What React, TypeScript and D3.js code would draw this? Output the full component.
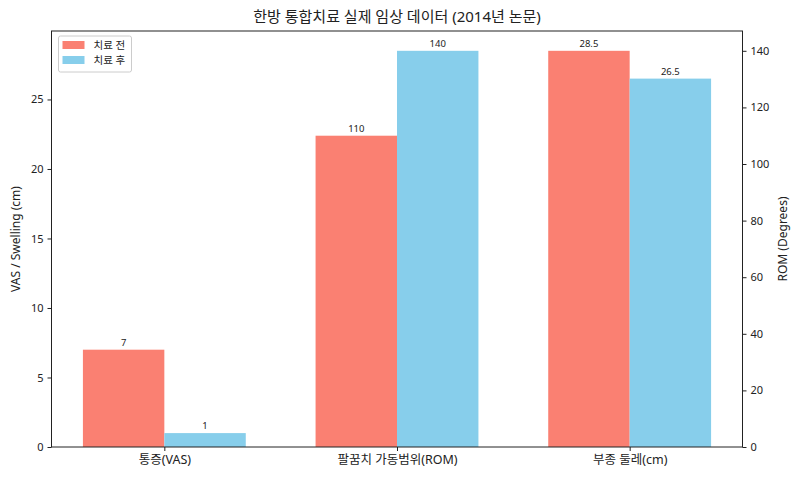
import * as d3 from "d3";
import { useEffect, useRef } from "react";

const categories = ["통증(VAS)", "팔꿈치 가동범위(ROM)", "부종 둘레(cm)"];
const beforeValues = [7, 110, 28.5];
const afterValues = [1, 140, 26.5];
// which y axis each category is plotted against
const axisSide = ["left", "right", "left"];
const leftTicks = [0, 5, 10, 15, 20, 25];
const rightTicks = [0, 20, 40, 60, 80, 100, 120, 140];
const seriesNames = ["치료 전", "치료 후"];
const seriesColors = ["#FA8072", "#87CEEB"];

const width = 800;
const height = 480;
const marginTop = 31;
const marginLeft = 51.5;
const marginBottom = 33;
const marginRight = 57.5;
const barWidth = 0.35;
const font = "'Noto Sans', 'Noto Sans CJK KR', sans-serif";

export default function App() {
  const ref = useRef<SVGSVGElement>(null);

  useEffect(() => {
    const svg = d3.select(ref.current);
    svg.selectAll("*").remove();
    svg.attr("font-family", font);

    const x = d3.scaleLinear([-0.485, 2.485], [marginLeft, width - marginRight]);
    const leftMax = d3.max(categories.flatMap((_, i) => (axisSide[i] === "left" ? [beforeValues[i], afterValues[i]] : []))) as number;
    const rightMax = d3.max(categories.flatMap((_, i) => (axisSide[i] === "right" ? [beforeValues[i], afterValues[i]] : []))) as number;
    const yLeft = d3.scaleLinear([0, leftMax * 1.05], [height - marginBottom, marginTop]);
    const yRight = d3.scaleLinear([0, rightMax * 1.05], [height - marginBottom, marginTop]);

    const series = [beforeValues, afterValues];
    series.forEach((values, s) => {
      const offset = s === 0 ? -barWidth / 2 : barWidth / 2;
      const g = svg.append("g");
      values.forEach((v, i) => {
        const y = axisSide[i] === "left" ? yLeft : yRight;
        const x0 = x(i + offset - barWidth / 2);
        const x1 = x(i + offset + barWidth / 2);
        g.append("rect")
          .attr("x", x0)
          .attr("y", y(v))
          .attr("width", x1 - x0)
          .attr("height", y(0) - y(v))
          .attr("fill", seriesColors[s]);
        g.append("text")
          .attr("x", (x0 + x1) / 2)
          .attr("y", y(v) - 4)
          .attr("text-anchor", "middle")
          .attr("font-size", 9.5)
          .attr("fill", "#222")
          .text(String(v));
      });
    });

    // frame
    svg
      .append("rect")
      .attr("x", marginLeft)
      .attr("y", marginTop)
      .attr("width", width - marginLeft - marginRight)
      .attr("height", height - marginTop - marginBottom)
      .attr("fill", "none")
      .attr("stroke", "#222")
      .attr("stroke-width", 1);

    const styleAxis = (g: d3.Selection<SVGGElement, unknown, null, undefined>) => {
      g.attr("font-family", font).attr("font-size", 11);
      g.select(".domain").remove();
      g.selectAll("line").attr("stroke", "#222");
      g.selectAll("text").attr("fill", "#222");
    };

    svg
      .append("g")
      .attr("transform", `translate(0, ${height - marginBottom})`)
      .call(
        d3
          .axisBottom(x)
          .tickValues(categories.map((_, i) => i))
          .tickFormat((d) => categories[d as number])
          .tickSize(4)
          .tickPadding(4)
      )
      .call(styleAxis)
      .attr("font-size", 12.5);

    svg
      .append("g")
      .attr("transform", `translate(${marginLeft}, 0)`)
      .call(d3.axisLeft(yLeft).tickValues(leftTicks).tickSize(4).tickPadding(4))
      .call(styleAxis);

    svg
      .append("g")
      .attr("transform", `translate(${width - marginRight}, 0)`)
      .call(d3.axisRight(yRight).tickValues(rightTicks).tickSize(4).tickPadding(4))
      .call(styleAxis);

    svg
      .append("text")
      .attr("transform", `translate(20, ${(marginTop + height - marginBottom) / 2}) rotate(-90)`)
      .attr("text-anchor", "middle")
      .attr("font-size", 12)
      .attr("fill", "#222")
      .text("VAS / Swelling (cm)");

    svg
      .append("text")
      .attr("transform", `translate(787, ${(marginTop + height - marginBottom) / 2}) rotate(-90)`)
      .attr("text-anchor", "middle")
      .attr("font-size", 12)
      .attr("fill", "#222")
      .text("ROM (Degrees)");

    svg
      .append("text")
      .attr("x", (marginLeft + width - marginRight) / 2)
      .attr("y", 22)
      .attr("text-anchor", "middle")
      .attr("font-size", 15)
      .attr("fill", "#222")
      .text("한방 통합치료 실제 임상 데이터 (2014년 논문)");

    // legend
    const legend = svg.append("g").attr("transform", `translate(${marginLeft + 7}, ${marginTop + 5})`);
    legend
      .append("rect")
      .attr("width", 73)
      .attr("height", 36)
      .attr("rx", 2)
      .attr("fill", "white")
      .attr("fill-opacity", 0.8)
      .attr("stroke", "#ccc");
    seriesNames.forEach((name, i) => {
      legend
        .append("rect")
        .attr("x", 4)
        .attr("y", 5 + i * 15)
        .attr("width", 22)
        .attr("height", 8)
        .attr("fill", seriesColors[i]);
      legend
        .append("text")
        .attr("x", 35)
        .attr("y", 13 + i * 15)
        .attr("font-size", 10.5)
        .attr("fill", "#222")
        .text(name);
    });
  }, []);

  return <svg ref={ref} width={width} height={height} style={{ position: "absolute", left: 0, top: 0 }} />;
}
